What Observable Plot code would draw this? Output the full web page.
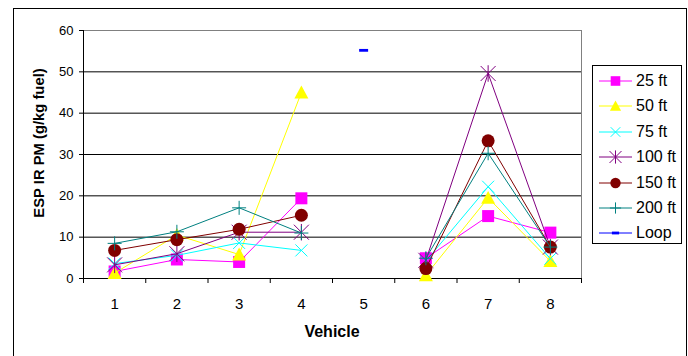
<!DOCTYPE html>
<html>
<head>
<meta charset="utf-8">
<script src="https://cdn.jsdelivr.net/npm/d3@7"></script>
<script src="https://cdn.jsdelivr.net/npm/@observablehq/plot@0.6"></script>
<style>
  body { margin: 0; background: #fff; font-family: "Liberation Sans", Arial, sans-serif; color: #000; }
  #wrap { position: relative; width: 688px; height: 356px; overflow: hidden; background: #fff; }
  #frame { position: absolute; left: 13px; top: 8px; width: 674px; height: 370px; border: 1px solid #000; box-sizing: border-box; }
  #chart { position: absolute; left: 0; top: 0; }
  #ylabel { position: absolute; left: 39px; top: 143px; transform: translate(-50%, -50%) rotate(-90deg);
            white-space: nowrap; font-weight: bold; font-size: 14.8px; }
  #xlabel { position: absolute; left: 83px; width: 498px; top: 322px; line-height: 20px; text-align: center;
            font-weight: bold; font-size: 16px; }
  #legend { position: absolute; left: 592px; top: 65px; width: 90px; height: 179px; border: 1px solid #000;
            box-sizing: border-box; background: #fff; }
  .row { position: absolute; left: 0; height: 20px; width: 88px; }
  .row svg { position: absolute; left: 6px; top: 0; }
  .row span { position: absolute; left: 43px; top: 0; line-height: 20px; font-size: 16px; white-space: nowrap; }
</style>
</head>
<body>
<div id="wrap">
  <div id="frame"></div>
  <div id="chart"></div>
  <div id="ylabel">ESP IR PM (g/kg fuel)</div>
  <div id="xlabel">Vehicle</div>
  <div id="legend"></div>
</div>
<script>
// Vehicles on the category axis
const vehicles = [1, 2, 3, 4, 5, 6, 7, 8];

// Series names (sampling distance) in legend order
const seriesNames = ["25 ft", "50 ft", "75 ft", "100 ft", "150 ft", "200 ft", "Loop"];

// ESP IR PM emission factors (g/kg fuel) per vehicle; null = no measurement
const ft25  = [1.7, 4.6, 4.0, 19.4, null, 4.9, 15.1, 11.1];
const ft50  = [1.3, 10.5, 5.8, 45.0, null, 0.8, 19.5, 4.2];
const ft75  = [3.6, 5.6, 8.6, 6.8, null, 4.2, 22.2, 4.8];
const ft100 = [3.3, 6.0, 11.2, 11.2, null, 4.4, 49.6, 7.6];
const ft150 = [6.8, 9.4, 11.9, 15.3, null, 2.4, 33.3, 7.6];
const ft200 = [8.5, 11.3, 17.1, 11.0, null, 4.9, 30.3, 7.6];
const loop  = [null, null, null, null, 55.2, null, null, null];

// Y axis tick values
const yTicks = [0, 10, 20, 30, 40, 50, 60];

const seriesValues = [ft25, ft50, ft75, ft100, ft150, ft200, loop];

// Marker shapes, drawn from the radius that Plot derives from r
const rad = (s) => Math.sqrt(s / Math.PI);
const symbols = {
  square:   { draw(c, s) { const r = rad(s); c.rect(-r, -r, 2 * r, 2 * r); } },
  triangle: { draw(c, s) { const r = rad(s); c.moveTo(0, -r); c.lineTo(r, 0.85 * r); c.lineTo(-r, 0.85 * r); c.closePath(); } },
  circle:   { draw(c, s) { const r = rad(s); c.moveTo(r, 0); c.arc(0, 0, r, 0, 2 * Math.PI); } },
  times:    { draw(c, s) { const r = rad(s); c.moveTo(-r, -r); c.lineTo(r, r); c.moveTo(-r, r); c.lineTo(r, -r); } },
  star:     { draw(c, s) { const r = rad(s); c.moveTo(-r, -r); c.lineTo(r, r); c.moveTo(-r, r); c.lineTo(r, -r); c.moveTo(0, -r * 1.1); c.lineTo(0, r * 1.1); } },
  plus:     { draw(c, s) { const r = rad(s); c.moveTo(-r, 0); c.lineTo(r, 0); c.moveTo(0, -r); c.lineTo(0, r); } },
  dash:     { draw(c, s) { const r = rad(s); c.rect(-r, -1.4, 2 * r, 2.8); } }
};

// Per-series styling
const styles = [
  { color: "#ff00ff", symbol: symbols.square,   r: 6,   filled: true },
  { color: "#ffff00", symbol: symbols.triangle, r: 7,   filled: true },
  { color: "#00ffff", symbol: symbols.times,    r: 6,   filled: false },
  { color: "#800080", symbol: symbols.star,     r: 7.5, filled: false },
  { color: "#800000", symbol: symbols.circle,   r: 6.5, filled: true },
  { color: "#008080", symbol: symbols.plus,     r: 7,   filled: false },
  { color: "#0000ff", symbol: symbols.dash,     r: 4.5, filled: true }
];

const rows = seriesNames.flatMap((name, i) =>
  vehicles.map((v, j) => ({ series: name, vehicle: v, value: seriesValues[i][j] }))
);

const bounds = d3.range(0.5, 9, 1);

const seriesMarks = seriesNames.flatMap((name, i) => {
  const st = styles[i];
  const data = rows.filter((d) => d.series === name);
  return [
    Plot.line(data, { x: "vehicle", y: "value", stroke: st.color, strokeWidth: 1 }),
    Plot.dot(data.filter((d) => d.value != null), {
      x: "vehicle", y: "value", symbol: st.symbol, r: st.r,
      fill: st.filled ? st.color : "none",
      stroke: st.filled ? "none" : st.color,
      strokeWidth: 1
    })
  ];
});

const chart = Plot.plot({
  width: 688,
  height: 356,
  marginLeft: 83,
  marginRight: 107,
  marginTop: 30,
  marginBottom: 78,
  style: { background: "transparent", fontFamily: "'Liberation Sans', Arial, sans-serif", color: "#000" },
  x: { type: "linear", domain: [0.5, 8.5] },
  y: { domain: [0, 60] },
  marks: [
    Plot.gridY(yTicks.filter((t) => t > 0 && t < 60), { stroke: "#000", strokeOpacity: 1 }),
    Plot.ruleY([60], { stroke: "#808080" }),
    Plot.ruleX([8.5], { stroke: "#808080" }),
    Plot.ruleY([0], { stroke: "#000" }),
    Plot.ruleX([0.5], { stroke: "#000" }),
    Plot.axisY(yTicks, { tickSize: 4, tickPadding: 6, fontSize: 13, label: null }),
    Plot.axisX(bounds, { tickSize: 5, tickFormat: () => "", label: null }),
    Plot.axisX(vehicles, { tickSize: 0, tickPadding: 20, fontSize: 15, label: null }),
    ...seriesMarks
  ]
});
document.getElementById("chart").appendChild(chart);

// Legend: line sample with a slightly smaller marker, then series name
const legend = d3.select("#legend");
seriesNames.forEach((name, i) => {
  const st = styles[i];
  const lr = st.r * 0.8;
  const row = legend.append("div").attr("class", "row").style("top", (5 + i * 25.4) + "px");
  const svg = row.append("svg").attr("width", 34).attr("height", 20);
  svg.append("line").attr("x1", 0).attr("x2", 33).attr("y1", 10).attr("y2", 10)
    .attr("stroke", st.color).attr("stroke-width", 1);
  const p = d3.path();
  st.symbol.draw(p, lr * lr * Math.PI);
  svg.append("path").attr("d", p.toString()).attr("transform", "translate(16.5,10)")
    .attr("fill", st.filled ? st.color : "none")
    .attr("stroke", st.filled ? "none" : st.color)
    .attr("stroke-width", 1);
  row.append("span").text(name);
});
</script>
</body>
</html>
